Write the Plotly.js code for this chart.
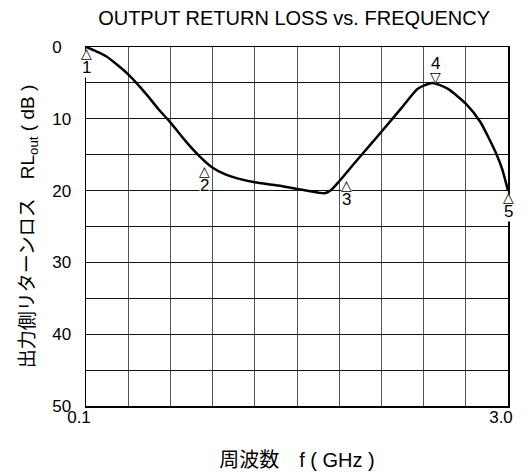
<!DOCTYPE html>
<html>
<head>
<meta charset="utf-8">
<script src="https://cdn.plot.ly/plotly-3.0.1.min.js"></script>
<style>html,body{margin:0;padding:0;background:#fff;}#chart{width:528px;height:473px;}</style>
</head>
<body>
<div id="chart"></div>
<script>
// Curve data: frequency (GHz) and output return loss (dB)
var freq = [0.1, 0.17, 0.236, 0.31, 0.39, 0.46, 0.53, 0.60, 0.68, 0.78, 0.872, 0.963, 1.054, 1.14, 1.26, 1.42, 1.55, 1.64, 1.70, 1.74, 1.78, 1.84, 1.94, 2.05, 2.13, 2.27, 2.38, 2.48, 2.585, 2.71, 2.81, 2.92, 2.96, 3.0];
var rlout = [0, 0.6, 1.25, 2.4, 3.8, 5.3, 6.95, 8.7, 10.5, 13.0, 15.05, 16.7, 17.7, 18.3, 18.84, 19.3, 19.77, 20.1, 20.3, 20.37, 20.0, 18.7, 16.3, 13.7, 11.8, 8.45, 5.8, 5.0, 5.8, 7.9, 10.45, 14.9, 17.0, 20.0];

// Numbered markers
var markerF = [0.1, 0.915, 1.89, 2.50, 3.0];
var markerDb = [0, 16.5, 18.4, 5.0, 20];
var markerLabels = ["1", "2", "3", "4", "5"];
var markerDir = ["up", "up", "up", "down", "up"];

// Axis ticks
var xTickVals = [0.1, 0.39, 0.68, 0.97, 1.26, 1.55, 1.84, 2.13, 2.42, 2.71, 3.0];
var xTickText = ["0.1", "", "", "", "", "", "", "", "", "", "3.0"];
var yTickVals = [0, 5, 10, 15, 20, 25, 30, 35, 40, 45, 50];
var yTickText = ["0\u00a0\u00a0", "", "10", "", "20", "", "30", "", "40", "", "50"];

var font = "Liberation Sans, Arial, Noto Sans CJK JP, sans-serif";
var symFont = "DejaVu Sans, sans-serif";

var trace = {
  x: freq, y: rlout, mode: "lines", type: "scatter",
  line: {color: "#000", width: 2.5, shape: "spline", smoothing: 0.6},
  hoverinfo: "skip", showlegend: false, cliponaxis: false
};

var labelAnns = [];
var triAnns = [];
markerF.forEach(function (f, i) {
  var up = markerDir[i] === "up";
  var base = {x: f, y: markerDb[i], xref: "x", yref: "y", showarrow: false, xanchor: "center", borderpad: 0};
  // number label (white box hides grid lines behind it)
  labelAnns.push(Object.assign({}, base, {
    text: markerLabels[i], yanchor: up ? "top" : "bottom", yshift: up ? -10 : 9,
    font: {family: font, size: 17, color: "#000"}, bgcolor: "#fff"
  }));
  // white-filled triangle (fill, then outline)
  triAnns.push(Object.assign({}, base, {
    text: up ? "▲" : "▼", yanchor: up ? "top" : "bottom", yshift: up ? 3 : -3,
    font: {family: symFont, size: 14, color: "#fff"}
  }));
  triAnns.push(Object.assign({}, base, {
    text: up ? "△" : "▽", yanchor: up ? "top" : "bottom", yshift: up ? 3 : -3,
    font: {family: symFont, size: 14, color: "#000"}
  }));
});

var layout = {
  width: 528, height: 473,
  margin: {l: 86, r: 20, t: 47, b: 67},
  paper_bgcolor: "#fff", plot_bgcolor: "#fff",
  title: {text: "OUTPUT RETURN LOSS vs. FREQUENCY", font: {family: font, size: 20, color: "#000"}, x: 0.557, xanchor: "center", y: 0.961, yanchor: "middle"},
  xaxis: {
    range: [0.1, 3.0], tickvals: xTickVals, ticktext: xTickText,
    showgrid: true, gridcolor: "#555", gridwidth: 1,
    showline: true, linecolor: "#000", linewidth: 1.5, mirror: true,
    ticks: "", zeroline: false, ticklabelstandoff: -5, ticklabelshift: -7,
    tickfont: {family: font, size: 17, color: "#000"},
    title: {text: "周波数　f ( GHz )", font: {family: font, size: 20, color: "#000"}, standoff: 27}
  },
  yaxis: {
    range: [50, 0], tickvals: yTickVals, ticktext: yTickText,
    showgrid: true, gridcolor: "#111", gridwidth: 1,
    showline: true, linecolor: "#000", linewidth: 1.5, mirror: true,
    ticks: "", zeroline: false, ticklabelstandoff: 10,
    tickfont: {family: font, size: 17, color: "#000"},
    title: {text: "出力側リターンロス　RL<sub>out</sub> ( dB )", font: {family: font, size: 19, color: "#000"}, standoff: 12}
  },
  annotations: labelAnns.concat(triAnns)
};

Plotly.newPlot("chart", [trace], layout, {displayModeBar: false, staticPlot: true});
</script>
</body>
</html>
